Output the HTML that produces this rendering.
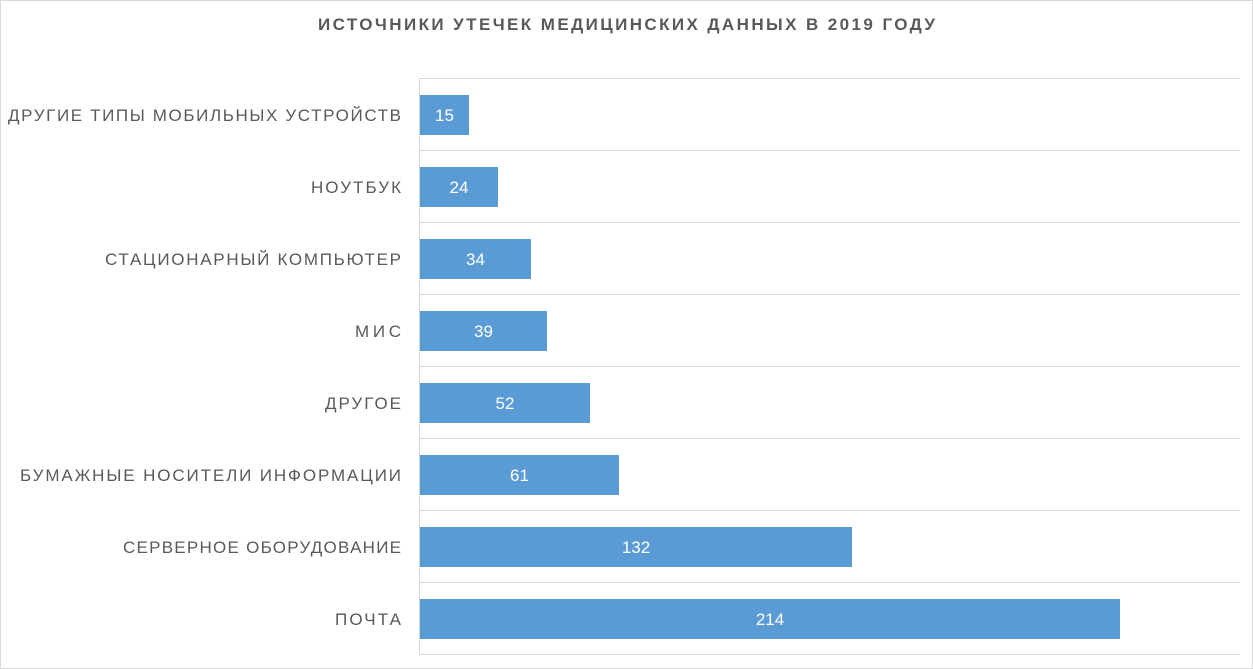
<!DOCTYPE html>
<html><head><meta charset="utf-8"><style>
html,body{margin:0;padding:0;background:#fff}
svg{display:block}
text{font-family:"Liberation Sans","DejaVu Sans",sans-serif}
</style></head><body>
<svg width="1253" height="669" viewBox="0 0 1253 669">
<rect x="0.5" y="0.5" width="1252" height="668" fill="#fff" stroke="#d9d9d9"/>
<text x="318" y="30" font-size="17" font-weight="bold" fill="#595959" textLength="617" lengthAdjust="spacing">ИСТОЧНИКИ УТЕЧЕК МЕДИЦИНСКИХ ДАННЫХ В 2019 ГОДУ</text>
<g stroke="#d9d9d9" stroke-width="1">
<line x1="419.5" y1="78.5" x2="1240" y2="78.5"/>
<line x1="419.5" y1="150.5" x2="1240" y2="150.5"/>
<line x1="419.5" y1="222.5" x2="1240" y2="222.5"/>
<line x1="419.5" y1="294.5" x2="1240" y2="294.5"/>
<line x1="419.5" y1="366.5" x2="1240" y2="366.5"/>
<line x1="419.5" y1="438.5" x2="1240" y2="438.5"/>
<line x1="419.5" y1="510.5" x2="1240" y2="510.5"/>
<line x1="419.5" y1="582.5" x2="1240" y2="582.5"/>
<line x1="419.5" y1="654.5" x2="1240" y2="654.5"/>
<line x1="419.5" y1="78" x2="419.5" y2="655"/>
</g>
<g fill="#5b9bd5">
<rect x="420" y="95" width="49" height="40"/>
<rect x="420" y="167" width="78" height="40"/>
<rect x="420" y="239" width="111" height="40"/>
<rect x="420" y="311" width="127" height="40"/>
<rect x="420" y="383" width="170" height="40"/>
<rect x="420" y="455" width="199" height="40"/>
<rect x="420" y="527" width="432" height="40"/>
<rect x="420" y="599" width="700" height="40"/>
</g>
<g fill="#fff" font-size="17" text-anchor="middle">
<text x="444.5" y="121">15</text>
<text x="459" y="193">24</text>
<text x="475.5" y="265">34</text>
<text x="483.5" y="337">39</text>
<text x="505" y="409">52</text>
<text x="519.5" y="481">61</text>
<text x="636" y="553">132</text>
<text x="770" y="625">214</text>
</g>
<g fill="#595959" font-size="17" lengthAdjust="spacing">
<text x="8" y="121" textLength="393" lengthAdjust="spacing">ДРУГИЕ ТИПЫ МОБИЛЬНЫХ УСТРОЙСТВ</text>
<text x="311" y="193" textLength="90" lengthAdjust="spacing">НОУТБУК</text>
<text x="105" y="265" textLength="296" lengthAdjust="spacing">СТАЦИОНАРНЫЙ КОМПЬЮТЕР</text>
<text x="355" y="337" textLength="46" lengthAdjust="spacing">МИС</text>
<text x="325" y="409" textLength="76" lengthAdjust="spacing">ДРУГОЕ</text>
<text x="20" y="481" textLength="381" lengthAdjust="spacing">БУМАЖНЫЕ НОСИТЕЛИ ИНФОРМАЦИИ</text>
<text x="123" y="553" textLength="278" lengthAdjust="spacing">СЕРВЕРНОЕ ОБОРУДОВАНИЕ</text>
<text x="335" y="625" textLength="66" lengthAdjust="spacing">ПОЧТА</text>
</g>
</svg>
</body></html>
